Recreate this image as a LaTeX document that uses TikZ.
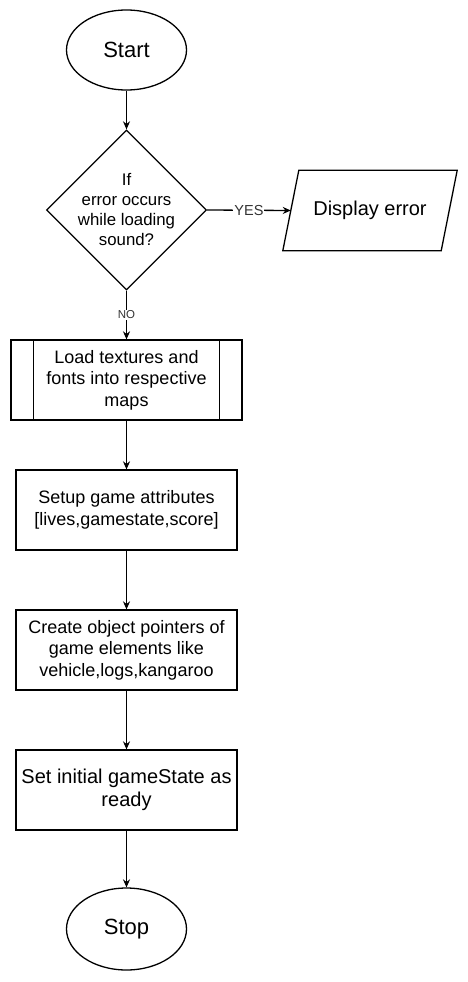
\documentclass[tikz,border=0pt]{standalone}
\usepackage{fontspec}
\setmainfont{Liberation Sans}
\usepackage{tikz}
\usetikzlibrary{shapes.geometric,arrows.meta}

\tikzset{
    term/.style={draw, ellipse, line width=1.3pt, minimum width=120pt, minimum height=80pt, font=\fontsize{22}{26}\selectfont},
    decide/.style={draw, diamond, line width=1.3pt, minimum width=160pt, minimum height=160pt, inner sep=0pt},
    proc/.style={draw, rectangle, line width=1.3pt, minimum width=221pt, minimum height=80pt, align=center, font=\fontsize{18}{21.6}\selectfont},
    io/.style={rectangle, minimum width=158pt, minimum height=80pt, inner sep=0pt, font=\fontsize{20}{24}\selectfont},
    flow/.style={-{Stealth[length=8pt,width=7pt]}, line width=1.3pt},
    lbl/.style={fill=white, inner sep=1pt, text=black!80}
}

\begin{document}
\begin{tikzpicture}[x=1pt,y=-1pt]
        \useasboundingbox (0,0) rectangle (467,982);

        \node[term] (start) at (126.5,50) {Start};
        \node[decide] (dec) at (126.5,210) {};
        \node[align=center, font=\fontsize{16.8}{20}\selectfont] (dectxt) at (126.5,210) {If\\error occurs\\while loading\\sound?};

        % parallelogram round the text
        \node[io] (disp) at (370,210.5) {Display error};
        \draw[line width=1.3pt] ([xshift=-8pt]disp.south west) -- ([xshift=8pt]disp.north west)
            -- ([xshift=8pt]disp.north east) -- ([xshift=-8pt]disp.south east) -- cycle;

        \node[proc, minimum width=231pt] (load) at (126.5,380) {Load textures and\\fonts into respective\\maps};
        \draw[line width=1.3pt] ([xshift=23pt]load.north west) -- ([xshift=23pt]load.south west);
        \draw[line width=1.3pt] ([xshift=-23pt]load.north east) -- ([xshift=-23pt]load.south east);

        \node[proc] (setup) at (126.5,510) {Setup game attributes\\{[lives,gamestate,score]}};
        \node[proc] (create) at (126.5,650) {Create object pointers of\\game elements like\\vehicle,logs,kangaroo};
        \node[proc, font=\fontsize{20}{23.5}\selectfont] (ready) at (126.5,790) {Set initial gameState as\\ready};
        \node[term, minimum height=82pt] (stop) at (126.5,929) {Stop};

        \draw[flow] (start) -- (dec);
        \draw[flow] (dec.east) -- (disp.west) node[lbl, midway, font=\fontsize{14.5}{17}\selectfont] (yes) {YES};
        \draw[flow] (dec.south) -- (load.north) node[lbl, midway, font=\fontsize{11.5}{14}\selectfont] (no) {NO};
        \draw[flow] (load) -- (setup);
        \draw[flow] (setup) -- (create);
        \draw[flow] (create) -- (ready);
        \draw[flow] (ready) -- (stop);
    \end{tikzpicture}
\end{document}
